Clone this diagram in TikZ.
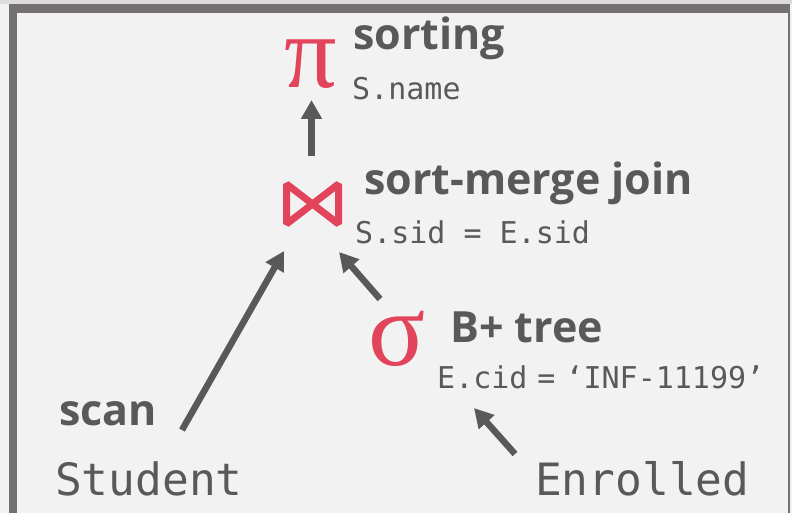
\documentclass[tikz,border=0pt]{standalone}
\usepackage{fontspec}
\setmainfont{Open Sans}
\newfontfamily\monofont{DejaVu Sans Mono}
\newfontfamily\symfont{Liberation Serif}
\usetikzlibrary{arrows.meta}
\definecolor{txt}{HTML}{595959}
\definecolor{opred}{HTML}{E2445C}
\definecolor{bg}{HTML}{F2F2F2}
\definecolor{frame}{HTML}{767171}
\definecolor{outer}{HTML}{DCDCDC}
\tikzset{
  opname/.style={font=\fontsize{43}{50}\selectfont\bfseries, text=txt, anchor=base west, inner sep=0pt},
  cond/.style={font=\monofont\fontsize{30}{36}\selectfont, text=txt, anchor=base west, inner sep=0pt},
  rel/.style={font=\monofont\fontsize{44.5}{50}\selectfont, text=txt, anchor=base west, inner sep=0pt},
  opsym/.style={font=\symfont\fontsize{104}{110}\selectfont, text=opred, anchor=base, inner sep=0pt},
  conn/.style={draw=txt, line width=6.5pt, -{Triangle[length=19pt,width=20pt]}},
}
\begin{document}
\begin{tikzpicture}[x=1pt,y=-1pt]
\useasboundingbox (0,0) rectangle (792,513);
\fill[bg] (0,0) rectangle (792,513);
\fill[outer] (0,0) rectangle (792,4.3);
\fill[frame] (9,4.3) rectangle (790,513);
\fill[bg] (16.7,12.7) rectangle (787.7,513);

% operators
\node[opsym] (pi) at (311,88) {π};
\node[opname] (sortlbl) at (353,50) {sorting};
\node[cond] (sortcond) at (352,100) {S.name};

\node[minimum width=58pt, minimum height=47pt, inner sep=0pt] (join) at (312.5,204) {};
\draw[opred, line width=7pt, line join=bevel] (286.5,184) -- (338.5,224) -- (338.5,184) -- (286.5,224) -- cycle;
\node[opname] (joinlbl) at (364,195) {sort-merge join};
\node[cond] (joincond) at (355,243) {S.sid = E.sid};

\node[opsym, font=\symfont\fontsize{106}{110}\selectfont] (sigma) at (397,365) {σ};
\node[opname] (selbl) at (450,342) {B+ tree};
\node[cond] (second) at (437,388) {E.cid\kern10pt=\kern10pt‘INF-11199’};

\node[opname] (scan) at (59,425) {scan};
\node[rel] (student) at (55,495) {Student};
\node[rel] (enrolled) at (535,495) {Enrolled};

% connector end points
\coordinate (p1s) at (311.5,156);
\coordinate (p1e) at (311.5,100);
\coordinate (p2s) at (182,430);
\coordinate (p2e) at (284,251);
\coordinate (p3s) at (380,299);
\coordinate (p3e) at (339,252);
\coordinate (p4s) at (515,454);
\coordinate (p4e) at (474,408);

\draw[conn] (p1s) -- (p1e);
\draw[conn] (p2s) -- (p2e);
\draw[conn] (p3s) -- (p3e);
\draw[conn] (p4s) -- (p4e);
\end{tikzpicture}
\end{document}
